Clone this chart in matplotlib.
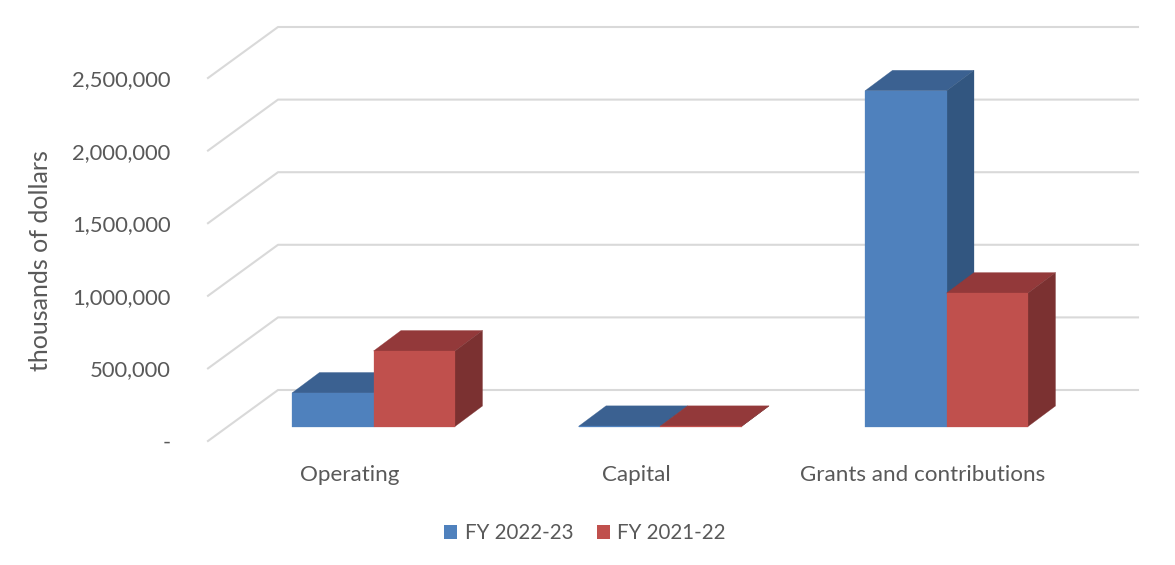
import matplotlib.pyplot as plt
from matplotlib.patches import Patch, Polygon

categories = ['Operating', 'Capital', 'Grants and contributions']
fy2223 = [231000, 1000, 2312000]
fy2122 = [520000, 1000, 919000]
tick_values = [0, 500000, 1000000, 1500000, 2000000, 2500000]
tick_labels = ['-', '500,000', '1,000,000', '1,500,000', '2,000,000', '2,500,000']

plt.rcParams['font.family'] = ['Lato', 'DejaVu Sans']
text_color = '#595959'
grid_color = '#d9d9d9'

W, H = 1175, 565
fig = plt.figure(figsize=(W / 100, H / 100), dpi=100)
# axes box in pixels: x 208-1138, y 441 (bottom) to 27 (top)
ax = fig.add_axes([208 / W, 1 - 441 / H, 930 / W, 414 / H])

# scales
px_per_val = 72.6 / 500000
px_per_cat = 286.5
x0 = (373.5 - 208) / px_per_cat  # centre of first group, from the axes left edge
ax.set_xlim(-x0, (1138 - 373.5) / px_per_cat)
ax.set_ylim(0, 414 / px_per_val)


def dx(px):
    return px / px_per_cat


def dy(px):
    return px / px_per_val


# walls: slanted part on the left, then flat gridline along the back
left = ax.get_xlim()[0]
right = ax.get_xlim()[1]
for v in tick_values:
    ax.plot([left, left + dx(70), right], [v, v + dy(51), v + dy(51)],
            color=grid_color, lw=1.5, zorder=1, clip_on=False)

bar_w = dx(81.5)
depth_x = dx(27.5)
depth_y = dy(20.5)
base = dy(14.5)  # front of the bars sits above the front floor edge


def box(x, value, front, top, side):
    # x = left edge of bar, draw top and side first and then the front face
    y0 = base
    y1 = base + value
    ax.add_patch(Polygon([(x, y1), (x + bar_w, y1), (x + bar_w + depth_x, y1 + depth_y), (x + depth_x, y1 + depth_y)],
                         closed=True, fc=top, ec=top, lw=0.2, zorder=3))
    ax.add_patch(Polygon([(x + bar_w, y0), (x + bar_w + depth_x, y0 + depth_y), (x + bar_w + depth_x, y1 + depth_y), (x + bar_w, y1)],
                         closed=True, fc=side, ec=side, lw=0.2, zorder=3))
    ax.add_patch(Polygon([(x, y0), (x + bar_w, y0), (x + bar_w, y1), (x, y1)],
                         closed=True, fc=front, ec=front, lw=0.2, zorder=3))


for i in range(len(categories)):
    box(i - bar_w, fy2223[i], '#4f81bd', '#3b6191', '#325680')
    box(i, fy2122[i], '#c0504d', '#93393a', '#7b3131')

ax.set_yticks(tick_values)
ax.set_yticklabels(tick_labels, fontsize=15.8, color=text_color)
ax.tick_params(axis='y', length=0, pad=27)
# labels sit left of the bar groups in the reference
ax.set_xticks([i - dx(24) for i in range(len(categories))])
ax.set_xticklabels(categories, fontsize=16.1, color=text_color)
ax.tick_params(axis='x', length=0, pad=17)

ax.set_ylabel('thousands of dollars', fontsize=18, color=text_color)
ax.yaxis.set_label_coords((52 - 208) / 930, (441 - 261) / 414)

for s in ax.spines.values():
    s.set_visible(False)
ax.patch.set_visible(False)

handles = [Patch(fc='#4f81bd', label='FY 2022-23'), Patch(fc='#c0504d', label='FY 2021-22')]
fig.legend(handles=handles, loc='center', bbox_to_anchor=(585 / W, 1 - 533 / H), ncol=2, frameon=False,
           fontsize=14.8, labelcolor=text_color, handlelength=0.65, handleheight=0.65,
           handletextpad=0.35, columnspacing=1.15, borderpad=0)

fig.savefig('out.png', dpi=100)
